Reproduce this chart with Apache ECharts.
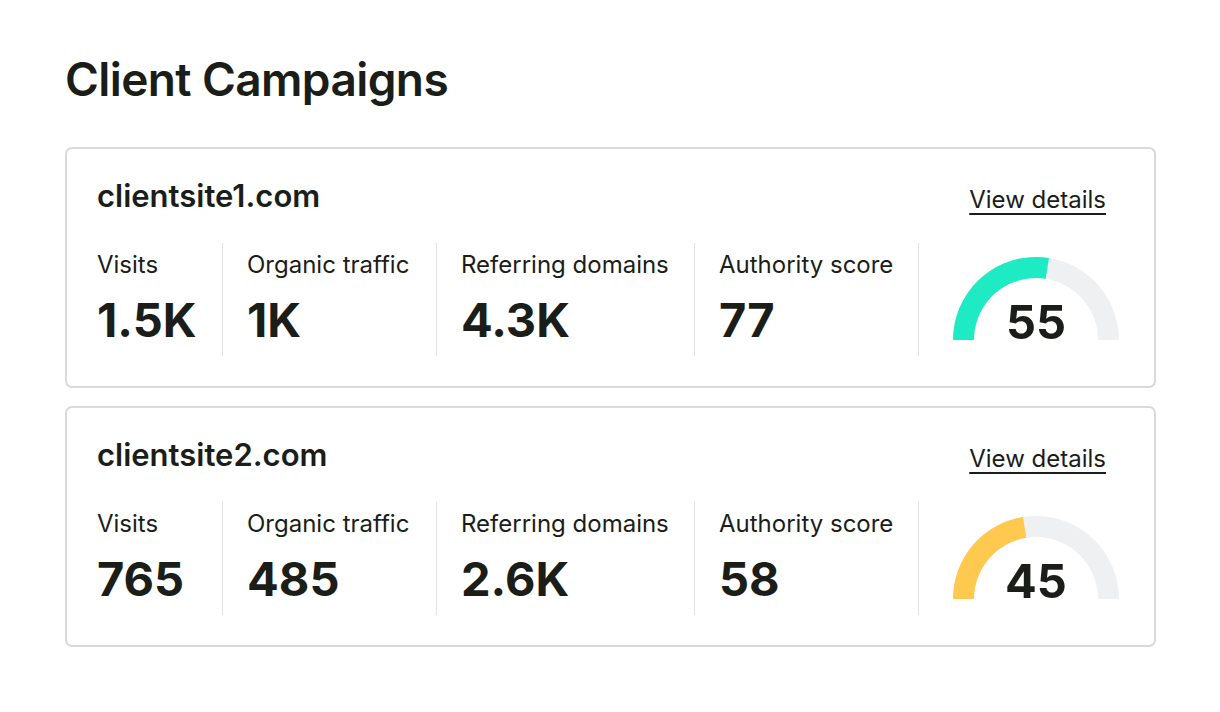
<!DOCTYPE html>
<html><head><meta charset="utf-8">
<script src="https://cdn.jsdelivr.net/npm/echarts@6/dist/echarts.min.js"></script>
<style>
body{margin:0;background:#fff;font-family:Inter,"Noto Sans",sans-serif;color:#1b1d18;}
#page{position:relative;width:1220px;height:712px;}
h1{position:absolute;left:65px;top:51px;margin:0;font-size:46px;font-weight:600;letter-spacing:-0.6px;}
.card{position:absolute;left:65px;width:1091px;height:241px;border:2px solid #d9d9d9;border-radius:7px;box-sizing:border-box;}
.site{position:absolute;left:30px;top:28px;font-size:31px;font-weight:600;}
.view{position:absolute;right:48px;top:36px;font-size:24px;text-decoration:underline;text-underline-offset:5px;text-decoration-thickness:2px;}
.col{position:absolute;top:94px;height:113px;}
.sep{position:absolute;top:94px;height:113px;width:1px;background:#e3e3e3;}
.lab{font-size:24px;margin-top:7px;}
.val{font-size:47px;font-weight:700;margin-top:12px;}
#chart{position:absolute;left:0;top:0;width:1220px;height:712px;pointer-events:none;}
</style></head>
<body><div id="page"><h1>Client Campaigns</h1><div id="cards"></div><div id="chart"></div></div>
<script>
var sites = ['clientsite1.com', 'clientsite2.com'];
var metricLabels = ['Visits', 'Organic traffic', 'Referring domains', 'Authority score'];
var metricValues = [['1.5K', '1K', '4.3K', '77'], ['765', '485', '2.6K', '58']];
var gaugeValues = [55, 45];
var gaugeColors = ['#1eebc3', '#ffc94f'];

var colX = [30, 180, 394, 652];
var sepX = [155, 369, 627, 851];
var cardTop = [147, 406];
var html = '';
sites.forEach(function (s, i) {
  html += '<div class="card" style="top:' + cardTop[i] + 'px"><div class="site">' + s + '</div><div class="view">View details</div>';
  metricLabels.forEach(function (l, j) {
    html += '<div class="col" style="left:' + colX[j] + 'px"><div class="lab">' + l + '</div><div class="val">' + metricValues[i][j] + '</div></div>';
    html += '<div class="sep" style="left:' + sepX[j] + 'px"></div>';
  });
  html += '</div>';
});
document.getElementById('cards').innerHTML = html;

var chart = echarts.init(document.getElementById('chart'));
chart.setOption({
  series: gaugeValues.map(function (v, i) {
    return {
      type: 'gauge', center: [1036, cardTop[i] + 193], radius: 83,
      startAngle: 180, endAngle: 0, min: 0, max: 100,
      progress: {show: true, width: 21, itemStyle: {color: gaugeColors[i]}},
      axisLine: {lineStyle: {width: 21, color: [[1, '#eef0f2']]}},
      pointer: {show: false}, axisTick: {show: false}, splitLine: {show: false}, axisLabel: {show: false},
      title: {show: false},
      detail: {offsetCenter: [0, -15], fontSize: 47, fontWeight: 700, color: '#1b1d18', fontFamily: 'Inter'},
      data: [{value: v}]
    };
  })
});
</script></body></html>
